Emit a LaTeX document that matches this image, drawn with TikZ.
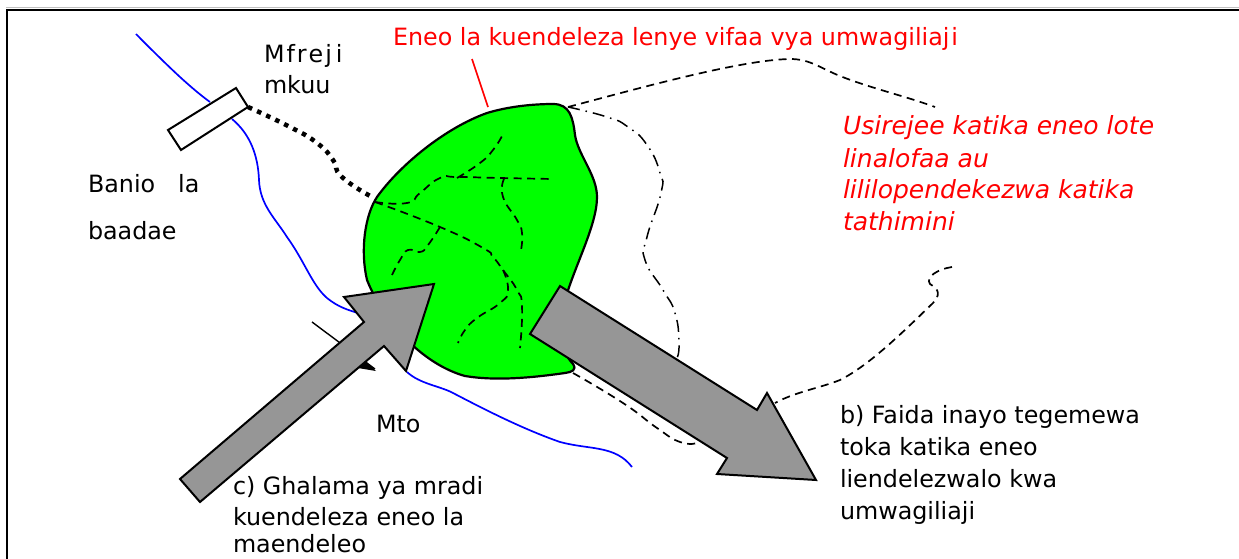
\documentclass[tikz,border=0pt]{standalone}
\usepackage{fontspec}
\setmainfont{DejaVu Sans}
\begin{document}
\begin{tikzpicture}[x=1pt,y=-1pt,
  lbl/.style={anchor=base west,inner sep=0pt,outer sep=0pt,font=\fontsize{23.8}{28}\selectfont,text=black},
  redlbl/.style={lbl,text=red},
  redit/.style={lbl,text=red,font=\fontsize{25}{29}\selectfont\itshape},
  arrowbig/.style={draw=black,line width=2pt,fill=black!41,line join=miter},
  dsh/.style={draw=black,line width=1.7pt,dash pattern=on 8pt off 5.5pt},
  dshd/.style={draw=black,line width=1.5pt,dash pattern=on 12pt off 6pt on 1.5pt off 6pt},
  river/.style={draw=blue,line width=1.7pt},
  sm/.style={smooth,tension=0.9}]
\useasboundingbox (0,0) rectangle (1239,559);
\fill[white] (0,0) rectangle (1239,559);
\draw[black!25,line width=1pt] (6,8) -- (1239,8);
\draw[line width=2pt] (6.5,559) -- (6.5,9.7) -- (1239,9.7);
% river
\draw[river] plot[sm] coordinates {(136,34) (180,77) (210,102)};
\draw[river] (232,119) .. controls (250,134) and (258,155) .. (259,180) .. controls (260,205) and (275,218) .. (287,237) .. controls (305,262) and (312,285) .. (327,298) .. controls (338,307) and (348,310) .. (358,313);
\draw[river] (407,372) .. controls (420,384) and (440,386) .. (453,393) .. controls (480,407) and (520,428) .. (560,442) .. controls (590,450) and (615,445) .. (632,467);
% small arrow behind
\coordinate (ra) at (312,322);
\coordinate (rb) at (375,369);
\draw[line width=1.4pt] (ra) -- (rb);
\fill (362,358) -- (376,371) -- (358,368) -- cycle;
% green area
\draw[line width=2.2pt,fill=green] (377,197) .. controls (400,165) and (445,128) .. (487,113) .. controls (510,106) and (535,104) .. (553,104) .. controls (570,104) and (573,118) .. (575,135) .. controls (578,155) and (597,175) .. (597,197) .. controls (597,225) and (575,265) .. (565,300) .. controls (557,330) and (560,350) .. (573,364) .. controls (577,370) and (572,372) .. (565,373) .. controls (530,378) and (495,381) .. (465,376) .. controls (425,365) and (385,325) .. (367,280) .. controls (360,250) and (365,215) .. (377,197) -- cycle;
% outer limit
\coordinate (ga) at (568,107);
\draw[dsh] (ga) .. controls (640,88) and (740,60) .. (790,59) .. controls (810,59) and (820,68) .. (840,76) .. controls (870,88) and (905,96) .. (935,107);
\draw[dsh] (952,267) .. controls (938,269) and (925,277) .. (930,284) .. controls (940,290) and (940,295) .. (933,303) .. controls (905,330) and (870,365) .. (840,380) .. controls (820,388) and (795,392) .. (775,403);
\draw[dsh] plot[sm] coordinates {(573,373) (623,403) (657,428) (680,442) (697,443)};
\draw[dshd] plot[sm] coordinates {(568,107) (607,117) (628,127) (647,145) (660,173) (661,193) (647,237) (645,260) (663,290) (675,313) (679,343) (677,358)};
% canal network
\coordinate (hd) at (375,202);
\draw[dsh] plot[sm] coordinates {(hd) (407,203) (420,193) (440,178) (457,177) (500,178) (553,179)};
\draw[dsh] plot[sm] coordinates {(457,178) (480,163) (493,150) (502,136)};
\draw[dsh] plot[sm] coordinates {(504,179) (503,197) (517,220) (522,233) (521,250)};
\draw[dsh] plot[sm] coordinates {(hd) (440,227) (483,248) (493,257) (503,270) (517,290) (522,307) (520,348)};
\draw[dsh] plot[sm] coordinates {(440,227) (428,245) (420,252) (408,250) (400,260) (392,275)};
\draw[dsh] plot[sm] coordinates {(503,270) (508,290) (500,303) (477,318) (465,330) (458,343)};
% red pointer
\coordinate (rp1) at (472,59);
\coordinate (rp2) at (488,107);
\draw[red,line width=1.7pt] (rp1) -- (rp2);
% structure
\draw[line width=2pt,fill=white] (168,130) -- (236,88) -- (248,107) -- (181,150) -- cycle;
\coordinate (st) at (248,107);
\draw[line width=4.5pt,dash pattern=on 4.5pt off 5.5pt] plot[sm] coordinates {(st) (290,127) (317,143) (333,160) (342,177) (372,197)};
% big arrows
\draw[arrowbig] (180,479) -- (364,322) -- (344,297) -- (434,284) -- (406,371) -- (384,346) -- (200,502) -- cycle;
\draw[arrowbig] (560,286) -- (757,410) -- (767,393) -- (816,480) -- (717,474) -- (727,458) -- (530,334) -- cycle;
% text
\node[redlbl] (t1) at (393,46) {Eneo la kuendeleza lenye vifaa vya umwagiliaj\hspace{2pt}i};
\node[lbl] (t2) at (264,63) {M\hspace{2pt}f\hspace{2pt}r\hspace{2pt}e\hspace{2pt}j\hspace{4pt}i};
\node[lbl] (t3) at (264,94) {mkuu};
\node[lbl] (t4) at (88,192) {Banio\hspace{23pt}la};
\node[lbl] (t5) at (88,239) {baadae};
\node[lbl] (t6) at (376,432) {Mto};
\node[redit] (u1) at (843,135) {Usirejee katika eneo lote};
\node[redit] (u2) at (843,167) {linalofaa au};
\node[redit] (u3) at (843,198) {lililopendekezwa katika};
\node[redit] (u4) at (843,230) {tathimini};
\node[lbl] (b1) at (840,423) {b) Faida inayo tegemewa};
\node[lbl] (b2) at (840,455) {toka katika eneo};
\node[lbl] (b3) at (840,487) {liendelezwalo kwa};
\node[lbl] (b4) at (840,519) {umwagiliaji};
\node[lbl] (c1) at (233,494) {c) Ghalama ya mradi};
\node[lbl] (c2) at (233,525) {kuendeleza eneo la};
\node[lbl] (c3) at (233,552) {maendeleo};
\end{tikzpicture}
\end{document}
